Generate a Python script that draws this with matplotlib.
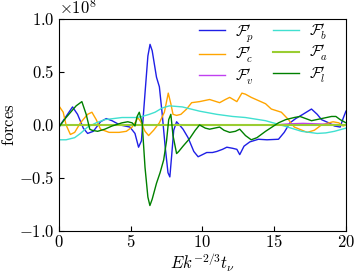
import numpy as np
import matplotlib
matplotlib.use("Agg")
import matplotlib.pyplot as plt
from matplotlib.ticker import FuncFormatter

plt.rcParams['mathtext.fontset'] = 'cm'
plt.rcParams['font.family'] = 'serif'
plt.rcParams['font.serif'] = ['DejaVu Serif']
plt.rcParams['axes.formatter.use_mathtext'] = True
plt.rcParams['font.size'] = 10

SCALE = 1e8

# F_p'
xp = [0, 0.5, 0.95, 1.3, 1.7, 2.0, 2.4, 2.9, 3.3, 3.7, 4.25, 4.95, 5.3, 5.55, 5.75, 6.0, 6.2, 6.35, 6.5, 6.8,
      7.0, 7.2, 7.4, 7.6, 7.73, 7.85, 8.0, 8.2, 8.4, 8.65, 9.0, 9.4, 9.7, 10.0, 10.3, 10.7, 11.0, 11.4, 11.7,
      12.1, 12.4, 12.6, 12.9, 13.3, 13.9, 14.5, 15.3, 15.7, 16.1, 16.5, 17.0, 17.6, 18.0, 18.3, 18.8, 19.2,
      19.6, 19.8, 20]
yp = [-0.02, 0.08, 0.17, 0.1, -0.03, -0.08, -0.06, 0.03, 0.06, 0.04, 0.0, -0.02, -0.08, -0.21, -0.15, 0.3,
      0.65, 0.76, 0.7, 0.45, 0.36, 0.1, -0.2, -0.45, -0.49, -0.3, -0.05, 0.03, 0.0, -0.04, -0.12, -0.25, -0.3,
      -0.28, -0.26, -0.26, -0.25, -0.23, -0.21, -0.22, -0.23, -0.28, -0.2, -0.16, -0.135, -0.14, -0.135, -0.07,
      0.02, 0.06, 0.1, 0.15, 0.1, 0.05, 0.02, -0.01, -0.02, 0.06, 0.13]

# F_c'
xc = [0, 0.3, 0.5, 0.8, 1.1, 1.5, 2.0, 2.3, 2.6, 2.9, 3.5, 4.2, 4.7, 5.1, 5.35, 5.5, 5.7, 6.0, 6.25, 6.6,
      7.0, 7.35, 7.62, 7.8, 7.95, 8.2, 8.5, 8.9, 9.25, 9.8, 10.5, 11.2, 11.6, 11.9, 12.4, 12.75, 13.0, 13.4,
      13.9, 14.4, 14.8, 15.5, 16.0, 16.4, 17.3, 17.8, 18.3, 19.1, 19.5, 19.8, 20]
yc = [0.18, 0.12, 0.0, -0.09, -0.07, 0.02, 0.1, 0.12, 0.05, -0.04, -0.07, -0.07, -0.06, -0.02, 0.03, 0.07,
      0.03, -0.06, -0.1, -0.05, 0.02, 0.12, 0.3, 0.2, 0.1, 0.09, 0.1, 0.15, 0.21, 0.22, 0.24, 0.21, 0.24, 0.26,
      0.22, 0.3, 0.29, 0.26, 0.23, 0.2, 0.15, 0.12, 0.05, -0.02, -0.07, -0.05, 0.0, 0.03, 0.02, -0.01, 0.0]

# F_v'
xv = [0, 15, 16, 17, 18, 19, 20]
yv = [0.0, 0.0, 0.01, 0.015, 0.01, 0.005, 0.0]

# F_b'
xb = [0, 0.5, 1.1, 1.5, 2.0, 2.6, 3.2, 4.4, 5.4, 5.8, 6.3, 6.7, 7.2, 7.7, 8.6, 9.8, 11.0, 12.1, 13.0, 14.4,
      15.7, 16.9, 18.0, 18.6, 19.2, 20]
yb = [-0.14, -0.14, -0.12, -0.08, -0.02, 0.02, 0.05, 0.07, 0.07, 0.08, 0.1, 0.12, 0.16, 0.18, 0.17, 0.13,
      0.1, 0.08, 0.07, 0.04, -0.01, -0.06, -0.08, -0.075, -0.06, -0.03]

# F_a'
xa = [0, 20]
ya = [0.0, 0.0]

# F_l'
xl = [0, 0.5, 1.2, 1.6, 1.9, 2.15, 2.3, 2.7, 3.2, 3.7, 4.4, 4.8, 5.1, 5.3, 5.45, 5.6, 5.8, 6.0, 6.2, 6.34,
      6.5, 6.8, 7.05, 7.3, 7.5, 7.65, 7.8, 7.95, 8.2, 8.35, 8.65, 9.1, 9.5, 9.8, 10.2, 10.5, 11.2, 11.5, 11.9,
      12.3, 12.6, 13.0, 13.4, 13.8, 14.4, 15.3, 15.8, 16.4, 16.8, 17.6, 18.3, 19.0, 19.3, 19.6, 20]
yl = [-0.02, 0.07, 0.18, 0.22, 0.1, -0.04, -0.05, -0.06, -0.04, -0.01, 0.02, 0.03, 0.02, -0.01, 0.08, 0.12,
      0.02, -0.4, -0.68, -0.76, -0.7, -0.55, -0.45, -0.33, -0.15, 0.05, 0.1, -0.1, -0.27, -0.25, -0.2, -0.13,
      -0.05, 0.0, -0.03, -0.04, -0.02, -0.05, -0.07, -0.06, -0.04, -0.1, -0.14, -0.12, -0.06, 0.02, 0.05,
      0.07, 0.08, 0.04, 0.06, 0.08, 0.08, 0.05, 0.02]

labels = [r"$\mathcal{F}_p'$", r"$\mathcal{F}_c'$", r"$\mathcal{F}_v'$",
          r"$\mathcal{F}_b'$", r"$\mathcal{F}_a'$", r"$\mathcal{F}_l'$"]
colors = ['#1f1fe6', 'orange', '#c040f0', 'turquoise', 'yellowgreen', 'green']
series = [(xp, yp), (xc, yc), (xv, yv), (xb, yb), (xa, ya), (xl, yl)]

xticks = [0, 5, 10, 15, 20]
yticks = [-1.0, -0.5, 0.0, 0.5, 1.0]

fig = plt.figure(figsize=(3.57, 2.74), dpi=100)
ax = fig.add_axes([0.165, 0.157, 0.804, 0.774])
for (xs, ys), lab, col in zip(series, labels, colors):
    lw = 1.5 if col == 'yellowgreen' else 1.0
    ax.plot(xs, np.array(ys) * SCALE, color=col, lw=lw, label=lab)

ax.set_xlim(0, 20)
ax.set_ylim(-1e8, 1e8)
ax.set_xticks(xticks)
ax.set_yticks([v * SCALE for v in yticks])
ax.xaxis.set_major_formatter(FuncFormatter(lambda v, p: r"$%d$" % round(v)))
ax.yaxis.set_major_formatter(FuncFormatter(lambda v, p: r"$%.1f$" % (v / SCALE)))
ax.tick_params(direction='in', labelsize=12, pad=3)
ax.tick_params(axis='x', pad=2)
ax.text(0.0, 1.005, r"$\times10^{8}$", transform=ax.transAxes, fontsize=12,
        ha='left', va='bottom')
ax.set_xlabel(r"$Ek^{-2/3}t_\nu$", fontsize=12, va='top')
ax.xaxis.set_label_coords(0.5, -0.097)
ax.set_ylabel(r"$\mathrm{forces}$", fontsize=12, labelpad=1)
ax.legend(ncol=2, frameon=False, loc='upper right', fontsize=11,
          handlelength=1.7, handletextpad=0.6, columnspacing=1.3,
          labelspacing=0.1, borderaxespad=0.05, bbox_to_anchor=(0.96, 1.02))

fig.savefig("out.png", dpi=100)
